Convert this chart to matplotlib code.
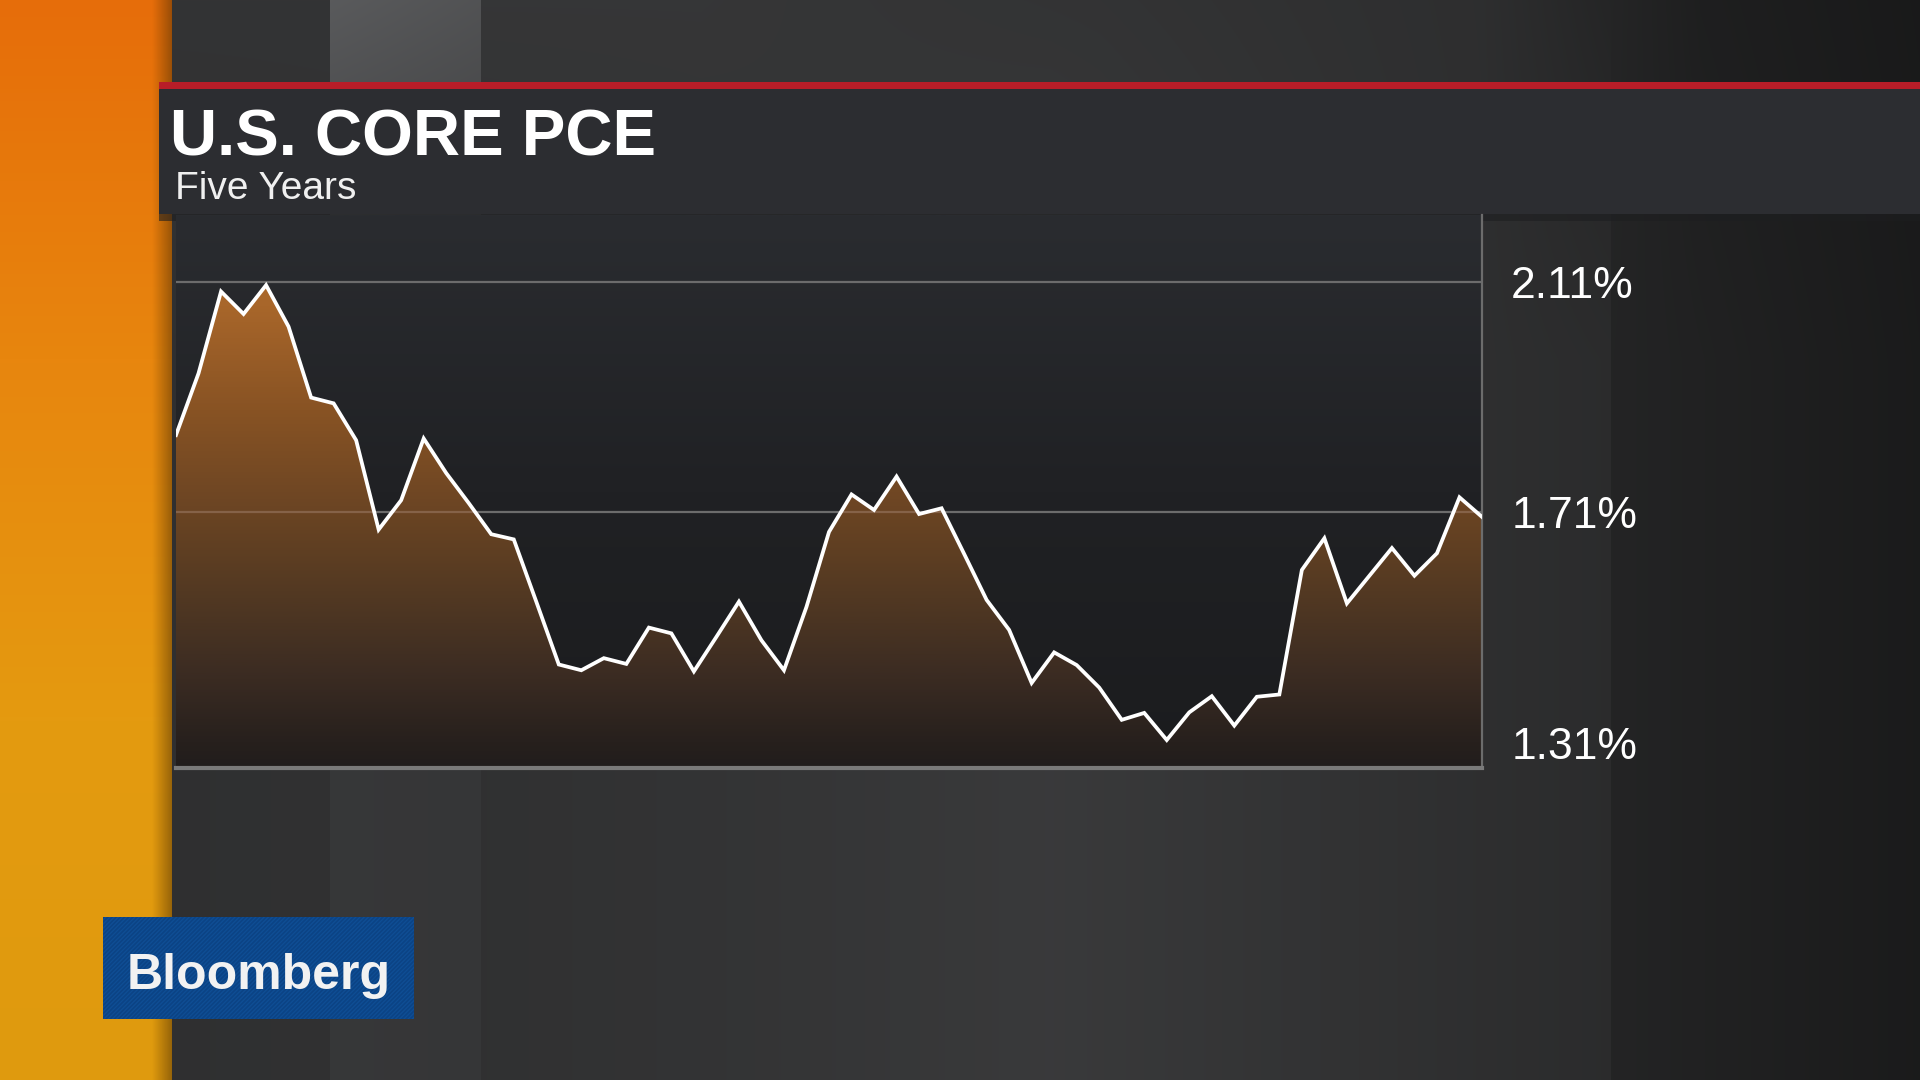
import matplotlib
matplotlib.use("Agg")
import matplotlib.pyplot as plt
import numpy as np
from matplotlib.colors import LinearSegmentedColormap
from matplotlib.patches import Rectangle, Polygon

# monthly core PCE, five years
values = [1.844, 1.951, 2.093, 2.054, 2.104, 2.032, 1.909, 1.899, 1.835, 1.680,
          1.731, 1.838, 1.778, 1.726, 1.672, 1.663, 1.555, 1.446, 1.436, 1.457,
          1.447, 1.510, 1.500, 1.434, 1.494, 1.555, 1.488, 1.436, 1.546, 1.676,
          1.741, 1.714, 1.772, 1.707, 1.717, 1.638, 1.558, 1.506, 1.414, 1.467,
          1.445, 1.406, 1.350, 1.362, 1.315, 1.363, 1.391, 1.340, 1.390, 1.394,
          1.610, 1.665, 1.552, 1.600, 1.648, 1.600, 1.639, 1.736, 1.702]
yticks = [2.11, 1.71, 1.31]
ytick_labels = ["2.11%", "1.71%", "1.31%"]
gridlines = [2.11, 1.71]
title = "U.S. CORE PCE"
subtitle = "Five Years"
logo = "Bloomberg"

W, H = 1920, 1080
fig = plt.figure(figsize=(19.2, 10.8), dpi=100)
fam = ["Liberation Sans", "DejaVu Sans"]

# ---- background (pixel coords) ----
bg = fig.add_axes([0, 0, 1, 1])
bg.set_xlim(0, W)
bg.set_ylim(H, 0)
bg.axis("off")

xs = np.arange(W)
top_prof = np.interp(xs, [0, 329, 330, 480, 481, 700, 1100, 1480, 1700, 1920],
                     [0.20, 0.20, 0.35, 0.32, 0.21, 0.21, 0.20, 0.18, 0.12, 0.10])
bot_prof = np.interp(xs, [0, 329, 330, 480, 481, 700, 1050, 1250, 1500, 1610, 1611, 1920],
                     [0.18, 0.19, 0.215, 0.21, 0.19, 0.20, 0.225, 0.205, 0.18, 0.17, 0.14, 0.105])
t = np.linspace(0, 1, H)[:, None]
t = np.clip(t * 3, 0, 1)
gray = top_prof[None, :] * (1 - t) + bot_prof[None, :] * t
img = np.dstack([gray, gray * 1.01, gray * 1.03])
bg.imshow(np.clip(img, 0, 1), extent=[0, W, H, 0], aspect="auto", zorder=0)

# orange strip on the left
orange = LinearSegmentedColormap.from_list("or", ["#e66d0a", "#e8860e", "#e49a10", "#df9a0e"])
strip = np.linspace(0, 1, 256)[:, None]
bg.imshow(strip, cmap=orange, extent=[0, 172, H, 0], aspect="auto", zorder=1)
shade = LinearSegmentedColormap.from_list("sh", [(0.35, 0.2, 0.0, 0.0), (0.3, 0.18, 0.02, 0.5)])
bg.imshow(np.linspace(0, 1, 64)[None, :], cmap=shade, extent=[152, 172, H, 0], aspect="auto", zorder=2)

# header band
bg.add_patch(Rectangle((159, 89), W - 159, 125, facecolor="#2c2d31", edgecolor="none", zorder=3))
bg.add_patch(Rectangle((159, 214), W - 159, 7, facecolor="#1d1e20", edgecolor="none", alpha=0.6, zorder=3))
bg.add_patch(Rectangle((159, 82), W - 159, 7, facecolor="#b81d28", edgecolor="none", zorder=4))

bg.text(170, 156, title, fontsize=47, fontweight="bold", color="white",
        family=fam, va="baseline", ha="left", zorder=5)
bg.text(175, 199, subtitle, fontsize=28, color="#f0f0f0",
        family=fam, va="baseline", ha="left", zorder=5)

# bloomberg logo
plt.rcParams["hatch.linewidth"] = 1.2
bg.add_patch(Rectangle((103, 917), 311, 102, facecolor="#0f4e95", edgecolor="#0b4385",
                       hatch="////////", lw=0, zorder=5))
bg.text(127, 989, logo, fontsize=36, fontweight="bold", color="#f2f2f2",
        family=fam, va="baseline", ha="left", zorder=6)

# ---- chart ----
x = np.arange(len(values))
ymax = 2.11 + (281.7 - 215) / 576.5
ymin = 2.11 - (768 - 281.7) / 576.5

ax = fig.add_axes([176 / W, 1 - 768 / H, (1482 - 176) / W, (768 - 215) / H])
ax.set_xlim(0, len(values) - 1)
ax.set_ylim(ymin, ymax)

plot_bg = LinearSegmentedColormap.from_list("pbg", ["#1b1c1e", "#202124", "#2a2c30"])
ax.imshow(np.linspace(0, 1, 256)[:, None], cmap=plot_bg, origin="lower",
          extent=[0, len(values) - 1, ymin, ymax], aspect="auto", zorder=0)

for g in gridlines:
    ax.axhline(g, color="#6c6c6c", lw=1.6, zorder=1)

fill_cmap = LinearSegmentedColormap.from_list(
    "fill", [(0.0, "#211d1c"), (0.045, "#27201d"), (0.16, "#3a2b22"), (0.306, "#513822"),
             (0.462, "#6a4423"), (0.66, "#8a5424"), (0.837, "#a8662a"), (1.0, "#b87230")])
verts = np.column_stack([np.r_[x, x[-1], x[0]], np.r_[values, ymin, ymin]])
poly = Polygon(verts, closed=True, facecolor="none", edgecolor="none")
ax.add_patch(poly)
fimg = ax.imshow(np.linspace(0, 1, 256)[:, None], cmap=fill_cmap, origin="lower",
                 extent=[0, len(values) - 1, ymin, ymax], aspect="auto", zorder=2)
fimg.set_clip_path(poly)

# faint gridlines showing through the fill
for g in gridlines:
    gl = ax.axhline(g, color="#b09080", lw=1.6, alpha=0.4, zorder=3)
    gl.set_clip_path(poly)

ax.plot(x, values, color="white", lw=2.7, solid_joinstyle="miter", zorder=4)

ax.set_xticks([])
ax.yaxis.tick_right()
ax.set_yticks(yticks)
ax.set_yticklabels(ytick_labels)
ax.tick_params(axis="y", length=0, pad=21, labelsize=32, labelcolor="white")
for lab in ax.get_yticklabels():
    lab.set_family(fam)

for s in ["top", "left"]:
    ax.spines[s].set_visible(False)
ax.spines["right"].set_color("#6c6c6c")
ax.spines["right"].set_linewidth(1.6)
ax.spines["bottom"].set_color("#7a7a7a")
ax.spines["bottom"].set_linewidth(3)

fig.savefig("out.png", dpi=100)
